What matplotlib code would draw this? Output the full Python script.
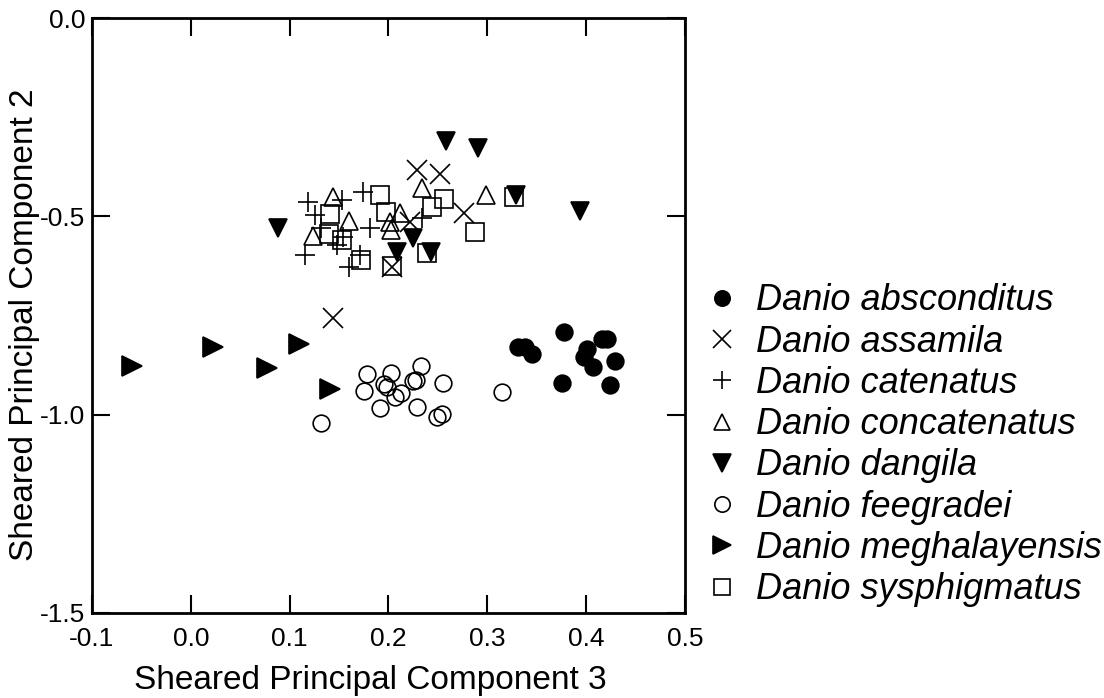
import numpy as np
import matplotlib
matplotlib.use('Agg')
import matplotlib.pyplot as plt

plt.rcParams['font.family'] = ['Liberation Sans', 'DejaVu Sans']
plt.rcParams['axes.unicode_minus'] = False

## Data
absconditus_x = [0.331, 0.338, 0.345, 0.378, 0.401, 0.398, 0.407, 0.416, 0.421, 0.429, 0.376, 0.424]
absconditus_y = [-0.829, -0.829, -0.847, -0.791, -0.835, -0.855, -0.879, -0.810, -0.810, -0.864, -0.919, -0.925]

assamila_x = [0.229, 0.252, 0.276, 0.222, 0.204, 0.144]
assamila_y = [-0.383, -0.393, -0.492, -0.514, -0.627, -0.757]

catenatus_x = [0.119, 0.153, 0.174, 0.126, 0.181, 0.132, 0.154, 0.148, 0.116, 0.171, 0.160, 0.234]
catenatus_y = [-0.463, -0.459, -0.438, -0.497, -0.530, -0.529, -0.551, -0.572, -0.597, -0.597, -0.627, -0.505]

concatenatus_x = [0.144, 0.160, 0.124, 0.212, 0.202, 0.203, 0.234, 0.299]
concatenatus_y = [-0.451, -0.512, -0.549, -0.492, -0.514, -0.534, -0.429, -0.446]

dangila_x = [0.088, 0.258, 0.291, 0.329, 0.394, 0.225, 0.209, 0.243]
dangila_y = [-0.529, -0.309, -0.328, -0.447, -0.486, -0.555, -0.589, -0.589]

feegradei_x = [0.132, 0.178, 0.203, 0.233, 0.175, 0.195, 0.198, 0.207, 0.213, 0.225,
               0.228, 0.255, 0.191, 0.229, 0.249, 0.254, 0.315]
feegradei_y = [-1.022, -0.897, -0.894, -0.877, -0.940, -0.923, -0.931, -0.955, -0.945, -0.914,
               -0.913, -0.919, -0.984, -0.981, -1.007, -0.998, -0.942]

meghalayensis_x = [-0.060, 0.022, 0.077, 0.109, 0.141]
meghalayensis_y = [-0.877, -0.829, -0.883, -0.822, -0.936]

sysphigmatus_x = [0.141, 0.140, 0.153, 0.172, 0.191, 0.197, 0.256, 0.244, 0.288, 0.239, 0.204, 0.327]
sysphigmatus_y = [-0.495, -0.545, -0.560, -0.610, -0.446, -0.489, -0.455, -0.476, -0.539, -0.593, -0.625, -0.451]

x_ticks = [-0.1, 0.0, 0.1, 0.2, 0.3, 0.4, 0.5]
y_ticks = [-1.5, -1.0, -0.5, 0.0]


fig = plt.figure(figsize=(11.04, 6.98), dpi=100)
ax = fig.add_axes([0.0833, 0.1218, 0.5372, 0.8522])

mew = 1.2
ax.plot(absconditus_x, absconditus_y, 'o', ms=12, mfc='black', mec='black', mew=mew,
        label='Danio absconditus')
ax.plot(assamila_x, assamila_y, 'x', ms=14, color='black', mew=mew,
        label='Danio assamila')
ax.plot(catenatus_x, catenatus_y, '+', ms=14, color='black', mew=mew,
        label='Danio catenatus')
ax.plot(concatenatus_x, concatenatus_y, '^', ms=13, mfc='none', mec='black', mew=mew,
        label='Danio concatenatus')
ax.plot(dangila_x, dangila_y, 'v', ms=13.5, mfc='black', mec='black', mew=mew,
        label='Danio dangila')
ax.plot(feegradei_x, feegradei_y, 'o', ms=12, mfc='none', mec='black', mew=mew,
        label='Danio feegradei')
ax.plot(meghalayensis_x, meghalayensis_y, '>', ms=14, mfc='black', mec='black', mew=mew,
        label='Danio meghalayensis')
ax.plot(sysphigmatus_x, sysphigmatus_y, 's', ms=13, mfc='none', mec='black', mew=mew,
        label='Danio sysphigmatus')

ax.set_xlim(-0.1, 0.5)
ax.set_ylim(-1.5, 0.0)
ax.set_xticks(x_ticks)
ax.set_yticks(y_ticks)
ax.set_xticklabels(['{:.1f}'.format(v) for v in x_ticks])
ax.set_yticklabels(['{:.1f}'.format(v) for v in y_ticks])

for spine in ax.spines.values():
    spine.set_linewidth(2.0)
ax.tick_params(axis='both', which='major', direction='in', length=13, width=1.5,
               top=True, right=True, labelsize=19)
ax.tick_params(axis='x', pad=10)
ax.tick_params(axis='y', pad=5)

ax.set_xlabel('Sheared Principal Component 3', fontsize=24, labelpad=10)
ax.set_ylabel('Sheared Principal Component 2', fontsize=24, labelpad=0)
ax.xaxis.label.set_x(0.47)
ax.yaxis.label.set_y(0.484)

leg = ax.legend(loc='center left', bbox_to_anchor=(0.638, 0.362), bbox_transform=fig.transFigure,
                frameon=False, prop={'size': 26, 'style': 'italic'}, markerscale=0.92,
                handlelength=1.0, handletextpad=0.42, labelspacing=0.175, borderpad=0.0,
                borderaxespad=0.0)

fig.savefig('out.png', dpi=100)
